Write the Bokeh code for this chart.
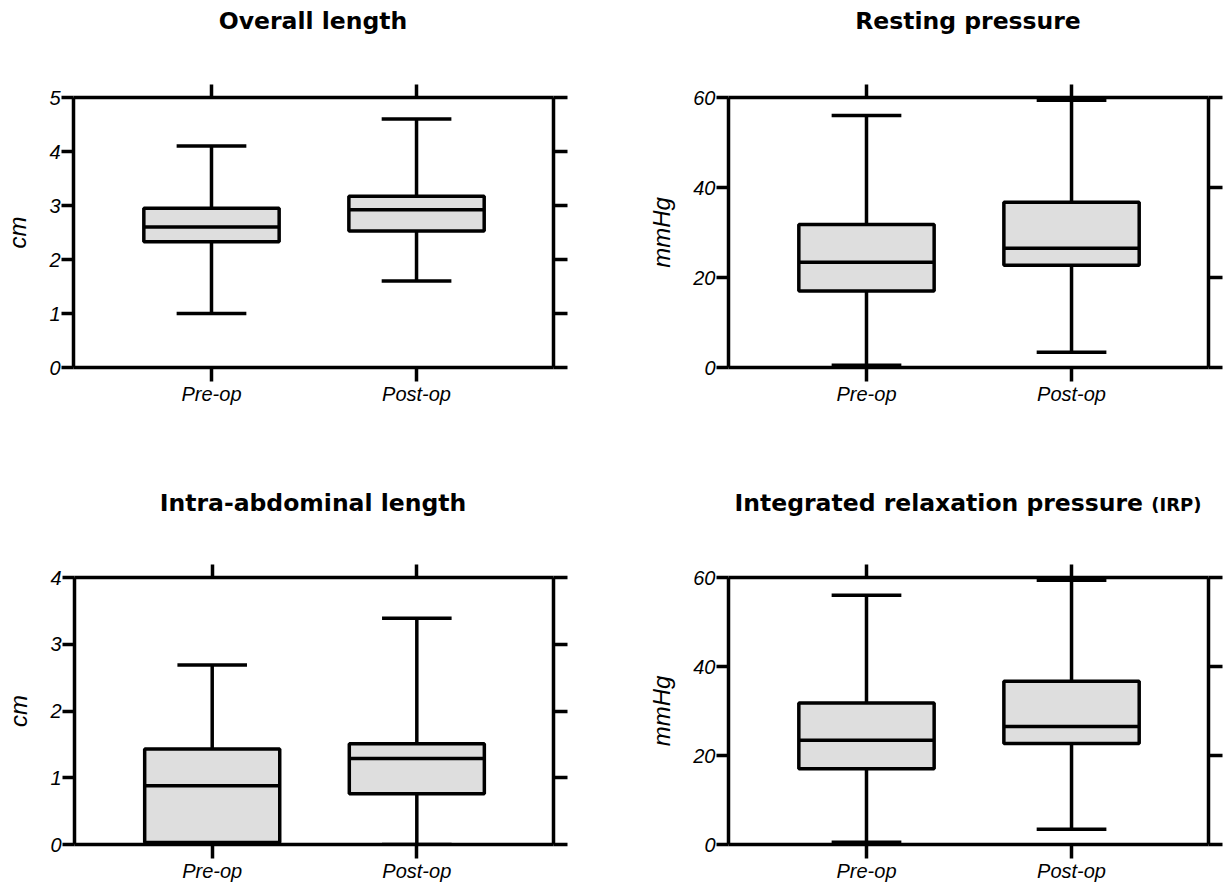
from bokeh.plotting import figure
from bokeh.models import Range1d, LinearAxis, FixedTicker, CustomLabelingPolicy, Div
from bokeh.layouts import column, row
from bokeh.embed import file_html
from bokeh.resources import INLINE

# ---------------- data ----------------
categories = ["Pre-op", "Post-op"]

overall_low = [1.0, 1.6]
overall_q1 = [2.33, 2.53]
overall_med = [2.6, 2.92]
overall_q3 = [2.95, 3.17]
overall_high = [4.1, 4.6]

resting_low = [0.5, 3.4]
resting_q1 = [17.0, 22.7]
resting_med = [23.4, 26.5]
resting_q3 = [31.8, 36.7]
resting_high = [56.0, 59.4]

intra_low = [0.0, 0.0]
intra_q1 = [0.03, 0.76]
intra_med = [0.88, 1.29]
intra_q3 = [1.43, 1.51]
intra_high = [2.69, 3.39]

irp_low = [0.5, 3.4]
irp_q1 = [17.0, 22.7]
irp_med = [23.4, 26.5]
irp_q3 = [31.8, 36.7]
irp_high = [56.0, 59.4]

titles = ["Overall length", "Resting pressure", "Intra-abdominal length",
          "Integrated relaxation pressure"]
title_suffix = "(IRP)"
y_labels = ["cm", "mmHg", "cm", "mmHg"]
y_ticks_cm5 = [0, 1, 2, 3, 4, 5]
y_ticks_cm4 = [0, 1, 2, 3, 4]
y_ticks_mmhg = [0, 20, 40, 60]

# ---------------- style ----------------
LW = 3.5
BOX_W = 0.66
CAP_W = 0.34
TICK_FONT = "Liberation Sans"
TITLE_FONT = "DejaVu Sans"
X0, X1 = 0.327, 2.668

NO_LABELS = CustomLabelingPolicy(code="for (const i of indices) { indices.unset(i) }\nreturn indices")


def make_title(text, width, height, left, frame_w, pad_top, suffix=None):
    inner = text
    if suffix is not None:
        inner = text + ' <span style="font-size:18px;">' + suffix + '</span>'
    html = ('<div style="margin:0; margin-left:%dpx; width:%dpx; padding-top:%dpx; '
            'text-align:center; white-space:nowrap; font-family:\'%s\'; font-weight:bold; '
            'font-size:23.5px; line-height:30px; color:black;">%s</div>'
            % (left, frame_w, pad_top, TITLE_FONT, inner))
    return Div(text=html, width=width, height=height, margin=0)


def make_panel(ylabel, ymax, yticks, low, q1, med, q3, high,
               width, height, bl, br, bt, bb):
    xs = list(range(1, len(categories) + 1))
    p = figure(width=width, height=height, output_backend="svg",
               toolbar_location=None,
               x_range=Range1d(X0, X1), y_range=Range1d(0, ymax),
               x_axis_location=None, y_axis_location=None,
               min_border_left=bl, min_border_right=br,
               min_border_top=bt, min_border_bottom=bb)
    p.xgrid.visible = False
    p.ygrid.visible = False
    p.outline_line_color = None
    p.background_fill_color = "white"
    p.border_fill_color = "white"

    def style(ax):
        ax.axis_line_width = LW
        ax.axis_line_color = "black"
        ax.major_tick_line_width = LW
        ax.major_tick_line_color = "black"
        ax.minor_tick_line_color = None
        ax.major_tick_in = 0
        ax.major_label_text_color = "black"
        ax.major_label_text_font = TICK_FONT
        ax.major_label_text_font_style = "italic"

    overrides = {x: c for x, c in zip(xs, categories)}

    bottom = LinearAxis(ticker=FixedTicker(ticks=xs), major_label_overrides=overrides)
    style(bottom)
    bottom.major_tick_out = 14
    bottom.major_label_standoff = 1
    bottom.major_label_text_font_size = "20px"
    p.add_layout(bottom, "below")

    top = LinearAxis(ticker=FixedTicker(ticks=xs), major_label_policy=NO_LABELS)
    style(top)
    top.major_tick_out = 13
    top.major_label_text_font_size = "1px"
    top.major_label_standoff = 0
    p.add_layout(top, "above")

    left = LinearAxis(ticker=FixedTicker(ticks=yticks), axis_label=ylabel)
    style(left)
    left.major_tick_out = 12
    left.major_label_standoff = 1
    left.major_label_text_font_size = "20px"
    left.axis_label_text_font = TICK_FONT
    left.axis_label_text_font_style = "italic"
    left.axis_label_text_font_size = "24px"
    left.axis_label_text_color = "black"
    left.axis_label_standoff = 15
    p.add_layout(left, "left")

    right = LinearAxis(ticker=FixedTicker(ticks=yticks), major_label_policy=NO_LABELS)
    style(right)
    right.major_tick_out = 14
    right.major_label_text_font_size = "1px"
    right.major_label_standoff = 0
    p.add_layout(right, "right")

    # whiskers
    p.segment(x0=xs, y0=q3, x1=xs, y1=high, line_width=LW, line_color="black")
    p.segment(x0=xs, y0=low, x1=xs, y1=q1, line_width=LW, line_color="black")
    # caps
    p.segment(x0=[x - CAP_W / 2 for x in xs], y0=high, x1=[x + CAP_W / 2 for x in xs],
              y1=high, line_width=LW, line_color="black")
    p.segment(x0=[x - CAP_W / 2 for x in xs], y0=low, x1=[x + CAP_W / 2 for x in xs],
              y1=low, line_width=LW, line_color="black")
    # boxes
    p.vbar(x=xs, bottom=q1, top=q3, width=BOX_W, fill_color="#dedede",
           line_color="black", line_width=LW)
    # medians
    p.segment(x0=[x - BOX_W / 2 for x in xs], y0=med, x1=[x + BOX_W / 2 for x in xs],
              y1=med, line_width=LW, line_color="black")
    return p


t1 = make_title(titles[0], 613, 60, 73, 480, 6)
t2 = make_title(titles[1], 614, 60, 115, 480, 6)
t3 = make_title(titles[2], 613, 110, 73, 480, 48)
t4 = make_title(titles[3], 614, 110, 115, 480, 48, suffix=title_suffix)

p1 = make_panel(y_labels[0], 5, y_ticks_cm5, overall_low, overall_q1, overall_med,
                overall_q3, overall_high, 613, 380, 73, 60, 37, 73)
p2 = make_panel(y_labels[1], 60, y_ticks_mmhg, resting_low, resting_q1, resting_med,
                resting_q3, resting_high, 614, 380, 115, 19, 37, 73)
p3 = make_panel(y_labels[2], 4, y_ticks_cm4, intra_low, intra_q1, intra_med,
                intra_q3, intra_high, 613, 334, 74, 60, 27, 38)
p4 = make_panel(y_labels[3], 60, y_ticks_mmhg, irp_low, irp_q1, irp_med,
                irp_q3, irp_high, 614, 334, 115, 19, 27, 38)

layout = column(row(t1, t2, spacing=0), row(p1, p2, spacing=0),
                row(t3, t4, spacing=0), row(p3, p4, spacing=0), spacing=0)

open("out.html", "w").write(file_html(layout, INLINE))
